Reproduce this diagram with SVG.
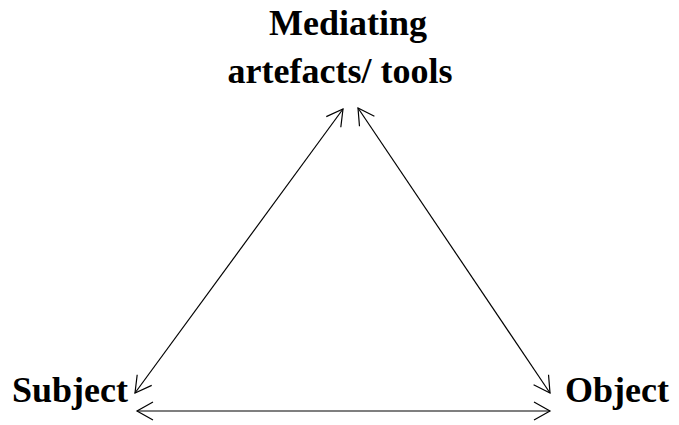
<svg xmlns="http://www.w3.org/2000/svg" width="679" height="425" viewBox="0 0 679 425">
<style>
text{font-family:"Liberation Serif","Times New Roman",serif;font-weight:bold;font-size:36px;fill:#000}
.c{fill:none;stroke:#000;stroke-width:1.2}
</style>
<defs>
<marker id="ah" markerUnits="userSpaceOnUse" markerWidth="24" markerHeight="24" viewBox="-20 -12 24 24" refX="0" refY="0" orient="auto-start-reverse">
<path d="M-16,-9 L0,0 L-16,9" fill="none" stroke="#000" stroke-width="1.2"/>
</marker>
</defs>
<rect width="679" height="425" fill="#fff"/>
<g id="mediating"><text x="348" y="35" text-anchor="middle">Mediating</text><text x="340" y="83" text-anchor="middle">artefacts/ tools</text></g>
<g id="subject"><text x="12" y="402">Subject</text></g>
<g id="object"><text x="565" y="402">Object</text></g>
<g id="connectors">
<line class="c" x1="343" y1="109" x2="135" y2="393" marker-start="url(#ah)" marker-end="url(#ah)"/>
<line class="c" x1="358" y1="108" x2="550" y2="393" marker-start="url(#ah)" marker-end="url(#ah)"/>
<line class="c" x1="137" y1="411" x2="550" y2="411" marker-start="url(#ah)" marker-end="url(#ah)"/>
</g>
</svg>
